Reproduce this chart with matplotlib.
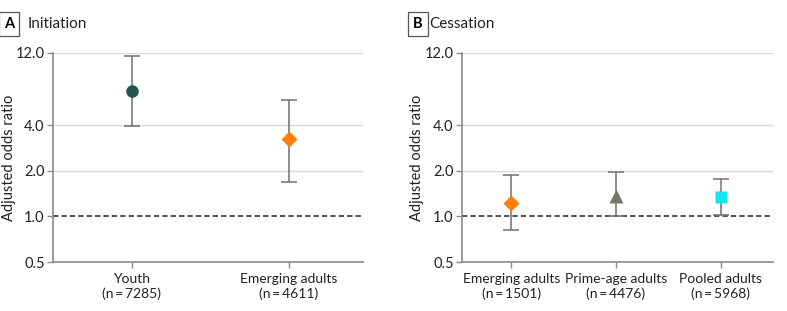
import numpy as np
import matplotlib
matplotlib.use("Agg")
import matplotlib.pyplot as plt

plt.rcParams['font.family'] = ['Lato', 'DejaVu Sans']

# --- data ---
init_labels = ['Youth\n(n\u2009=\u20097285)', 'Emerging adults\n(n\u2009=\u20094611)']
init_or = [6.7, 3.25]
init_lo = [3.95, 1.69]
init_hi = [11.5, 5.9]

cess_labels = ['Emerging adults\n(n\u2009=\u20091501)', 'Prime-age adults\n(n\u2009=\u20094476)',
               'Pooled adults\n(n\u2009=\u20095968)']
cess_or = [1.23, 1.37, 1.34]
cess_lo = [0.81, 1.01, 1.02]
cess_hi = [1.87, 1.95, 1.76]

init_markers = ['o', 'D']
init_colors = ['#245452', '#ff7f0e']
cess_markers = ['D', '^', 's']
cess_colors = ['#ff7f0e', '#77776a', '#14e6ee']
marker_sizes = {'o': 9, 'D': 8, '^': 10, 's': 9}

yticks = [0.5, 1.0, 2.0, 4.0, 12.0]

fig = plt.figure(figsize=(7.87, 3.11), dpi=100)
ax_a = fig.add_axes([53 / 787, 49 / 311, 310 / 787, 209 / 311])
ax_b = fig.add_axes([462 / 787, 49 / 311, 311 / 787, 209 / 311])


def draw_panel(ax, labels, vals, lo, hi, markers, colors, xlim, ylab_x):
    x = np.arange(len(labels))
    ax.set_yscale('log')
    ax.set_ylim(0.5, 12.0)
    ax.set_xlim(*xlim)
    for yv in [2.0, 4.0, 12.0]:
        ax.axhline(yv, color='#d9d9d9', lw=1.0, zorder=0)
    ax.axhline(1.0, color='#222222', lw=1.1, ls=(0, (3.5, 2)), zorder=1)
    for i in range(len(labels)):
        ax.errorbar(x[i], vals[i],
                    yerr=[[vals[i] - lo[i]], [hi[i] - vals[i]]],
                    fmt='none', ecolor='#707070', elinewidth=1.1,
                    capsize=6, capthick=1.1, zorder=2)
        ax.plot(x[i], vals[i], marker=markers[i], color=colors[i],
                ms=marker_sizes[markers[i]], ls='none', mec='none', zorder=3)
    ax.yaxis.set_major_locator(matplotlib.ticker.FixedLocator(yticks))
    ax.yaxis.set_minor_locator(matplotlib.ticker.NullLocator())
    ax.set_yticklabels([f'{v:.1f}' for v in yticks])
    ax.set_xticks(x)
    ax.set_xticklabels(labels, linespacing=1.25)
    for s in ['top', 'right']:
        ax.spines[s].set_visible(False)
    for s in ['left', 'bottom']:
        ax.spines[s].set_color('#8a8a8a')
        ax.spines[s].set_linewidth(1.2)
    ax.tick_params(axis='both', colors='#8a8a8a', labelcolor='#222222',
                   labelsize=10, length=4, width=1.0)
    ax.tick_params(axis='y', labelsize=10.5, pad=2)
    ax.tick_params(axis='x', pad=4)
    ax.set_ylabel('Adjusted odds ratio', fontsize=10.5, color='#222222')
    ax.yaxis.set_label_coords(ylab_x, 0.5)


draw_panel(ax_a, init_labels, init_or, init_lo, init_hi, init_markers, init_colors,
           (-0.5, 1.47), -0.118)
draw_panel(ax_b, cess_labels, cess_or, cess_lo, cess_hi, cess_markers, cess_colors,
           (-0.47, 2.5), -0.122)

# panel headers
box = dict(boxstyle='square,pad=0.35', fc='white', ec='#555555', lw=0.9)
fig.text(4 / 787, 1 - 24 / 311, 'A', fontsize=10.5, fontweight='bold', va='center', ha='left', bbox=box)
fig.text(28 / 787, 1 - 24 / 311, 'Initiation', fontsize=11, va='center', ha='left', color='#222222')
fig.text(413 / 787, 1 - 24 / 311, 'B', fontsize=10.5, fontweight='bold', va='center', ha='left', bbox=box)
fig.text(429 / 787, 1 - 24 / 311, 'Cessation', fontsize=11, va='center', ha='left', color='#222222')

fig.savefig('out.png', dpi=100)
